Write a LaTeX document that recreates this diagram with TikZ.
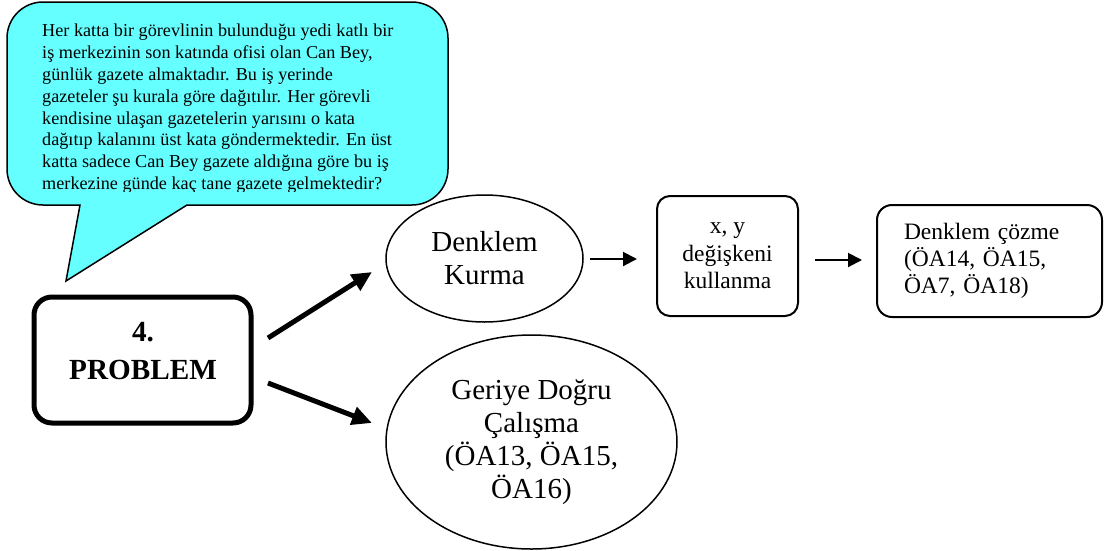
\documentclass[tikz,border=0pt]{standalone}
\usepackage{fontspec}
\setmainfont{Liberation Serif}
\usetikzlibrary{shapes.geometric,arrows.meta}
\definecolor{calloutcyan}{RGB}{102,255,255}
\begin{document}
\begin{tikzpicture}[x=1pt,y=-1pt,
  ovalnode/.style={draw,line width=1.5pt,ellipse,inner sep=0pt,align=center,font=\fontsize{29}{33}\selectfont},
  roundbox/.style={draw,line width=2pt,rounded corners=13pt,inner sep=0pt},
  thickarrow/.style={line width=5pt,-{Triangle[length=20pt,width=18pt]}},
  thinarrow/.style={line width=2pt,-{Triangle[length=14pt,width=14pt]}},
  callouttext/.style={anchor=north west,inner sep=0pt,align=left,font=\fontsize{18.2}{21.9}\selectfont},
]
\useasboundingbox (0,0) rectangle (1104,550);

% speech callout
\draw[fill=calloutcyan,line width=1.5pt]
  (250,2) [rounded corners=36pt] -- (7,2) -- (7,205) [sharp corners] -- (80,205)
  -- (66,281) -- (187,205) [rounded corners=36pt] -- (448,205) -- (448,2) -- cycle;
\begin{scope}
\clip (0,0) rectangle (448,191);
\node[callouttext] (question) at (42,23.6) {Her katta bir görevlinin bulunduğu yedi katlı bir\\
iş merkezinin son katında ofisi olan Can Bey,\\
günlük gazete almaktadır. Bu iş yerinde\\
gazeteler şu kurala göre dağıtılır. Her görevli\\
kendisine ulaşan gazetelerin yarısını o kata\\
dağıtıp kalanını üst kata göndermektedir. En üst\\
katta sadece Can Bey gazete aldığına göre bu iş\\
merkezine günde kaç tane gazete gelmektedir?};
\end{scope}

% problem box
\node[draw,line width=5pt,rounded corners=18pt,minimum width=217pt,minimum height=126pt] (prob) at (142.5,360) {};
\node[align=center,inner sep=0pt,font=\fontsize{29.2}{38}\selectfont\bfseries] (probtext) at (143,351) {4.\\PROBLEM};

% ellipses
\node[ovalnode,minimum width=197pt,minimum height=127pt] (kurma) at (484.5,258.5) {Denklem\\Kurma};
\node[ovalnode,minimum width=291pt,minimum height=214pt] (geriye) at (531.5,442) {Geriye Doğru\\Çalışma\\(ÖA13, ÖA15,\\ÖA16)};

% boxes
\node[roundbox,minimum width=141pt,minimum height=120pt,align=center,font=\fontsize{23.5}{27.5}\selectfont] (degisken) at (727.5,256) {x, y\\değişkeni\\kullanma};
\node[roundbox,rounded corners=15pt,minimum width=225pt,minimum height=112pt,text width=171pt,inner xsep=27pt,align=left,font=\fontsize{23.5}{27}\selectfont] (cozme) at (989.5,261) {Denklem çözme\\(ÖA14, ÖA15,\\ÖA7, ÖA18)};

% arrows
\coordinate (a1s) at (268,338);
\coordinate (a1e) at (372,272);
\coordinate (a2s) at (268,383);
\coordinate (a2e) at (372,423);
\coordinate (a3s) at (590,259);
\coordinate (a3e) at (637,259);
\coordinate (a4s) at (815,260);
\coordinate (a4e) at (862,260);
\draw[thickarrow] (a1s) -- (a1e);
\draw[thickarrow] (a2s) -- (a2e);
\draw[thinarrow] (a3s) -- (a3e);
\draw[thinarrow] (a4s) -- (a4e);
\end{tikzpicture}
\end{document}
